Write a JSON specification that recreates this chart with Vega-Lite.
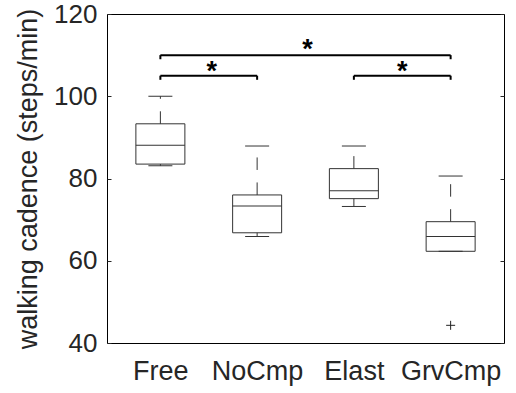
{
  "$schema": "https://vega.github.io/schema/vega-lite/v6.json",
  "autosize": {"type": "none"},
  "width": 397,
  "height": 329,
  "padding": {"left": 107, "top": 14, "right": 12, "bottom": 50},
  "background": "white",
  "config": {
    "view": {"stroke": "#000000", "strokeWidth": 1},
    "font": "Liberation Sans"
  },
  "datasets": {
    "boxes": [
      {"group": "Free", "pos": 1, "lower": 83.1, "q1": 83.5, "median": 88.1, "q3": 93.3, "upper": 100},
      {"group": "NoCmp", "pos": 2, "lower": 65.9, "q1": 66.8, "median": 73.3, "q3": 76.0, "upper": 87.9},
      {"group": "Elast", "pos": 3, "lower": 73.2, "q1": 75.1, "median": 77.0, "q3": 82.4, "upper": 87.9},
      {"group": "GrvCmp", "pos": 4, "lower": 62.3, "q1": 62.3, "median": 65.9, "q3": 69.5, "upper": 80.6}
    ],
    "outliers": [
      {"group": "GrvCmp", "pos": 4, "value": 44.3}
    ],
    "brackets": [
      {"from": 1, "to": 2, "mid": 1.53, "y": 105, "yend": 104, "ystar": 107.6},
      {"from": 3, "to": 4, "mid": 3.5, "y": 105, "yend": 104, "ystar": 107.6},
      {"from": 1, "to": 4, "mid": 2.52, "y": 110, "yend": 109, "ystar": 112.9}
    ]
  },
  "encoding": {
    "x": {
      "field": "pos",
      "type": "quantitative",
      "scale": {"domain": [0.5, 4.5], "nice": false, "zero": false},
      "axis": {
        "title": null,
        "values": [1, 2, 3, 4],
        "labelExpr": "['','Free','NoCmp','Elast','GrvCmp'][datum.value]",
        "ticks": false,
        "domain": false,
        "grid": false,
        "labelFont": "Liberation Sans",
        "labelFontSize": 27,
        "labelColor": "#262626",
        "labelPadding": 15
      }
    }
  },
  "layer": [
    {
      "data": {"name": "boxes"},
      "mark": {"type": "rule", "strokeDash": [12.5, 12.5], "stroke": "#333333", "strokeWidth": 1},
      "encoding": {
        "y": {
          "field": "q3",
          "type": "quantitative",
          "scale": {"domain": [40, 120], "nice": false, "zero": false},
          "axis": {
            "title": "walking cadence (steps/min)",
            "orient": "left",
            "values": [40, 60, 80, 100, 120],
            "grid": false,
            "domain": false,
            "tickSize": -4,
            "tickColor": "#262626",
            "labelFont": "Liberation Sans",
            "labelFontSize": 26,
            "labelColor": "#262626",
            "labelPadding": 14,
            "titleFont": "Liberation Sans",
            "titleFontSize": 27,
            "titleFontWeight": "normal",
            "titleColor": "#262626",
            "titlePadding": 11
          }
        },
        "y2": {"field": "upper"}
      }
    },
    {
      "data": {"name": "boxes"},
      "mark": {"type": "rule", "strokeDash": [12.5, 12.5], "stroke": "#333333", "strokeWidth": 1},
      "encoding": {
        "y": {
          "field": "q1",
          "type": "quantitative",
          "axis": {
            "title": null,
            "orient": "right",
            "values": [40, 60, 80, 100, 120],
            "labels": false,
            "grid": false,
            "domain": false,
            "tickSize": -4,
            "tickColor": "#262626"
          }
        },
        "y2": {"field": "lower"}
      }
    },
    {
      "data": {"name": "boxes"},
      "mark": {"type": "bar", "orient": "vertical", "size": 49, "fill": "white", "fillOpacity": 0, "stroke": "#333333", "strokeWidth": 1},
      "encoding": {
        "y": {"field": "q1", "type": "quantitative", "axis": null},
        "y2": {"field": "q3"}
      }
    },
    {
      "data": {"name": "boxes"},
      "mark": {"type": "tick", "orient": "horizontal", "size": 49, "thickness": 1, "color": "#333333", "opacity": 1},
      "encoding": {
        "y": {"field": "median", "type": "quantitative", "axis": null}
      }
    },
    {
      "data": {"name": "boxes"},
      "mark": {"type": "tick", "orient": "horizontal", "size": 24, "thickness": 1, "color": "#333333", "opacity": 1},
      "encoding": {
        "y": {"field": "upper", "type": "quantitative", "axis": null}
      }
    },
    {
      "data": {"name": "boxes"},
      "mark": {"type": "tick", "orient": "horizontal", "size": 24, "thickness": 1, "color": "#333333", "opacity": 1},
      "encoding": {
        "y": {"field": "lower", "type": "quantitative", "axis": null}
      }
    },
    {
      "data": {"name": "outliers"},
      "mark": {"type": "point", "shape": "M-1,0L1,0M0,-1L0,1", "filled": false, "size": 81, "stroke": "#222222", "strokeWidth": 1, "opacity": 1},
      "encoding": {
        "y": {"field": "value", "type": "quantitative", "axis": null}
      }
    },
    {
      "data": {"name": "brackets"},
      "mark": {"type": "rule", "stroke": "#000000", "strokeWidth": 2},
      "encoding": {
        "x": {"field": "from", "type": "quantitative"},
        "x2": {"field": "to"},
        "y": {"field": "y", "type": "quantitative", "axis": null}
      }
    },
    {
      "data": {"name": "brackets"},
      "mark": {"type": "rule", "stroke": "#000000", "strokeWidth": 2},
      "encoding": {
        "x": {"field": "from", "type": "quantitative"},
        "y": {"field": "y", "type": "quantitative", "axis": null},
        "y2": {"field": "yend"}
      }
    },
    {
      "data": {"name": "brackets"},
      "mark": {"type": "rule", "stroke": "#000000", "strokeWidth": 2},
      "encoding": {
        "x": {"field": "to", "type": "quantitative"},
        "y": {"field": "y", "type": "quantitative", "axis": null},
        "y2": {"field": "yend"}
      }
    },
    {
      "data": {"name": "brackets"},
      "mark": {"type": "text", "text": "*", "font": "Liberation Sans", "fontSize": 27, "fontWeight": "bold", "baseline": "middle", "align": "center", "dy": 7, "color": "#000000"},
      "encoding": {
        "x": {"field": "mid", "type": "quantitative"},
        "y": {"field": "ystar", "type": "quantitative", "axis": null}
      }
    }
  ],
  "resolve": {"axis": {"y": "independent"}}
}
